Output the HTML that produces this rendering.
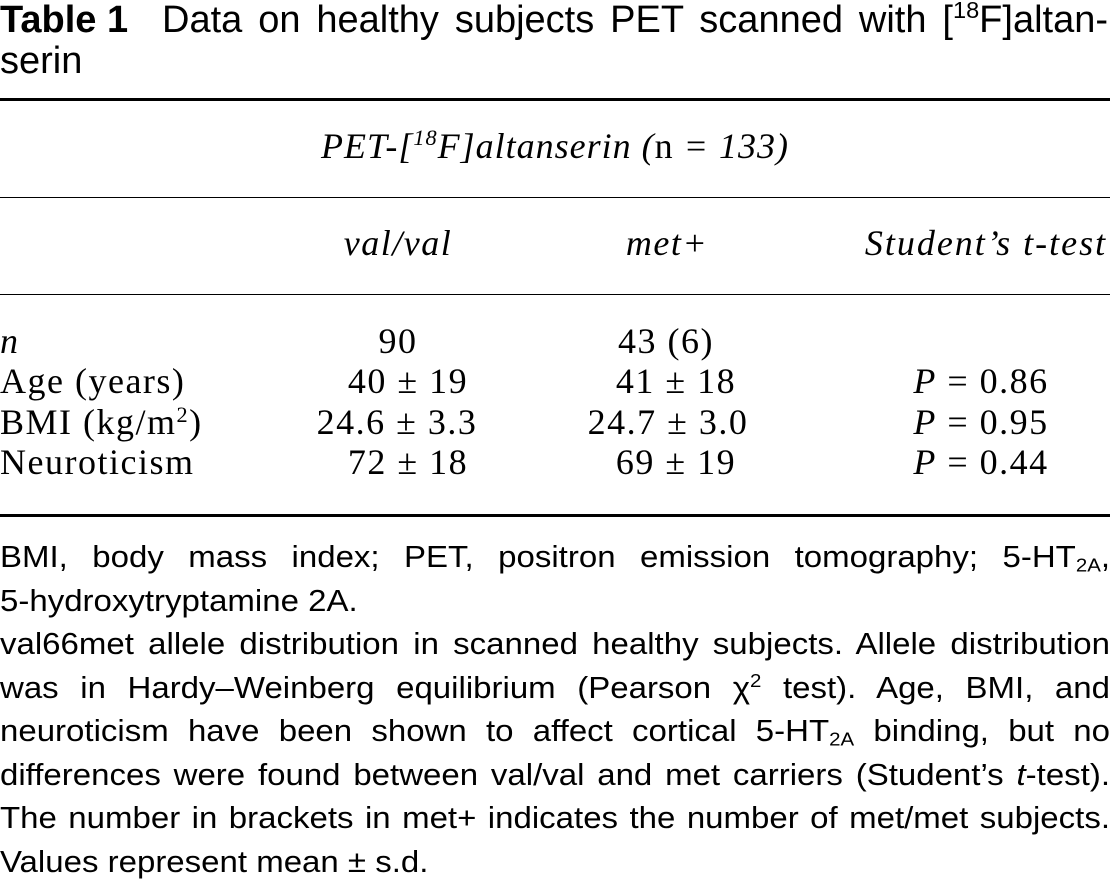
<!DOCTYPE html>
<html><head><meta charset="utf-8">
<style>
html,body{margin:0;padding:0;background:#fff;}
body{width:1112px;height:880px;position:relative;overflow:hidden;color:#000;}
.hl{position:absolute;left:0;width:1110px;background:#000;}
.ttl{position:absolute;font-family:"Liberation Sans",Arial,sans-serif;font-size:38px;line-height:38px;white-space:nowrap;}
.ttlj{position:absolute;left:162px;top:1px;width:946px;font-family:"Liberation Sans",Arial,sans-serif;font-size:38px;line-height:38px;text-align:justify;text-align-last:justify;}
.fn{position:absolute;left:0;width:1110px;font-size:33px;line-height:33px;font-family:"Liberation Sans",Arial,sans-serif;text-align:justify;text-align-last:justify;transform:scaleY(0.92);transform-origin:0 28px;}
.fn.l{text-align:left;text-align-last:left;white-space:nowrap;}
.t{position:absolute;width:600px;text-align:center;font-size:36px;line-height:36px;letter-spacing:1.5px;font-family:"Liberation Serif","Times New Roman",serif;white-space:nowrap;}
.lt{text-align:left;}
.sp{font-size:0.62em;position:relative;top:-0.6em;line-height:0;}
.sb{font-size:0.62em;position:relative;top:0.25em;line-height:0;}
</style>
</head><body>

<!-- Title -->
<div class="ttl" style="left:0;top:1px;font-weight:bold;">Table 1</div>
<div class="ttlj">Data on healthy subjects PET scanned with [<span class="sp">18</span>F]altan-</div>
<div class="ttl" style="left:0;top:42px;">serin</div>

<!-- Rules -->
<div class="hl" style="top:98px;height:3px;"></div>
<div class="hl" style="top:197px;height:1px;"></div>
<div class="hl" style="top:294px;height:1px;"></div>
<div class="hl" style="top:514px;height:3px;"></div>

<!-- Table header -->
<div class="t" style="left:255px;top:128px;font-style:italic;letter-spacing:1px;">PET-[<span class="sp">18</span>F]altanserin (<span style="font-style:normal">n</span> = 133)</div>
<div class="t" style="left:98px;top:225px;font-style:italic;">val/val</div>
<div class="t" style="left:367px;top:225px;font-style:italic;">met+</div>
<div class="t" style="left:686px;top:225px;font-style:italic;letter-spacing:2px;">Student’s t-test</div>

<!-- Row labels -->
<div class="t lt" style="left:0;top:323px;font-style:italic;">n</div>
<div class="t lt" style="left:0;top:363px;">Age (years)</div>
<div class="t lt" style="left:0;top:404px;">BMI (kg/m<span class="sp" style="top:-0.55em">2</span>)</div>
<div class="t lt" style="left:0;top:444px;">Neuroticism</div>

<!-- Column val/val -->
<div class="t" style="left:98px;top:323px;">90</div>
<div class="t" style="left:108px;top:363px;">40 ± 19</div>
<div class="t" style="left:97px;top:404px;">24.6 ± 3.3</div>
<div class="t" style="left:108px;top:444px;">72 ± 18</div>

<!-- Column met+ -->
<div class="t" style="left:366px;top:323px;">43 (6)</div>
<div class="t" style="left:376px;top:363px;">41 ± 18</div>
<div class="t" style="left:368px;top:404px;">24.7 ± 3.0</div>
<div class="t" style="left:376px;top:444px;">69 ± 19</div>

<!-- Column t-test -->
<div class="t" style="left:681px;top:363px;"><i>P</i> = 0.86</div>
<div class="t" style="left:681px;top:404px;"><i>P</i> = 0.95</div>
<div class="t" style="left:681px;top:444px;"><i>P</i> = 0.44</div>

<!-- Footnotes -->
<div class="fn" style="top:539px;">BMI, body mass index; PET, positron emission tomography; 5-HT<span class="sb">2A</span>,</div>
<div class="fn l" style="top:583px;">5-hydroxytryptamine 2A.</div>
<div class="fn" style="top:626px;">val66met allele distribution in scanned healthy subjects. Allele distribution</div>
<div class="fn" style="top:670px;">was in Hardy–Weinberg equilibrium (Pearson χ<span class="sp">2</span> test). Age, BMI, and</div>
<div class="fn" style="top:713px;">neuroticism have been shown to affect cortical 5-HT<span class="sb">2A</span> binding, but no</div>
<div class="fn" style="top:757px;">differences were found between val/val and met carriers (Student’s <i>t</i>-test).</div>
<div class="fn" style="top:800px;">The number in brackets in met+ indicates the number of met/met subjects.</div>
<div class="fn l" style="top:844px;">Values represent mean ± s.d.</div>

</body></html>
